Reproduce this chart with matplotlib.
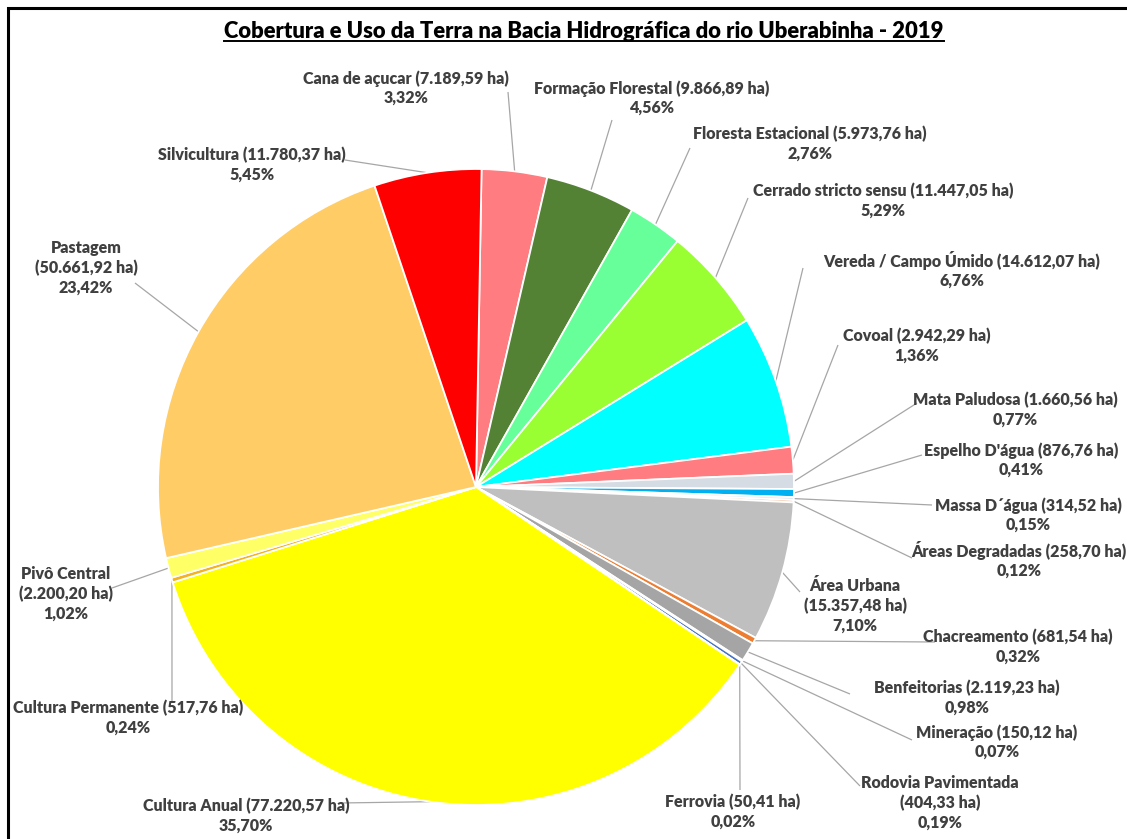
import matplotlib
matplotlib.use("Agg")
import matplotlib.pyplot as plt
import numpy as np

# ---------------- data ----------------
categories = [
    "Cana de açucar", "Formação Florestal", "Floresta Estacional",
    "Cerrado stricto sensu", "Vereda / Campo Úmido", "Covoal",
    "Mata Paludosa", "Espelho D'água", "Massa D´água", "Áreas Degradadas",
    "Área Urbana", "Chacreamento", "Benfeitorias", "Mineração",
    "Rodovia Pavimentada", "Ferrovia", "Cultura Anual",
    "Cultura Permanente", "Pivô Central", "Pastagem", "Silvicultura",
]
hectares = [
    7189.59, 9866.89, 5973.76, 11447.05, 14612.07, 2942.29,
    1660.56, 876.76, 314.52, 258.70, 15357.48, 681.54, 2119.23, 150.12,
    404.33, 50.41, 77220.57, 517.76, 2200.20, 50661.92, 11780.37,
]
percents = [
    3.32, 4.56, 2.76, 5.29, 6.76, 1.36, 0.77, 0.41, 0.15, 0.12, 7.10,
    0.32, 0.98, 0.07, 0.19, 0.02, 35.70, 0.24, 1.02, 23.42, 5.45,
]
title = "Cobertura e Uso da Terra na Bacia Hidrográfica do rio Uberabinha - 2019"

colors = [
    "#FF7C80", "#548235", "#66FF99", "#99FF33", "#00FFFF", "#FF7C80",
    "#D6DCE4", "#00B0F0", "#DDEBF7", "#F4B183", "#BFBFBF", "#ED7D31",
    "#A5A5A5", "#D9D9D9", "#4472C4", "#70AD47", "#FFFF00", "#F4B120",
    "#FFFF66", "#FFCC66", "#FF0000",
]

# label layout (pixel coords): text centre, leader anchor
label_pos = [
    (406, 88), (652, 98), (810, 144), (883, 201), (962, 270), (917, 346),
    (1015, 410), (1021, 460), (1028, 515), (1019, 560), (855, 606),
    (1018, 647), (967, 698), (997, 742), (940, 803), (733, 812),
    (246, 816), (128, 718), (66, 594), (86, 268), (252, 165),
]
anchor_pos = [
    (508, 92), (612, 120), (690, 148), (748, 198), (803, 268), (838, 345),
    (917, 403), (922, 455), (932, 505), (912, 558), (800, 592),
    (935, 642), (850, 694), (912, 740), (860, 786), (740, 790),
    (340, 803), (172, 702), (112, 588), (135, 283), (345, 160),
]
three_line = {"Área Urbana", "Rodovia Pavimentada", "Pivô Central", "Pastagem"}

W, H = 1127, 839
CX, CY, R = 476, 487, 318

def fmt_br(v):
    s = f"{v:,.2f}"
    return s.replace(",", "#").replace(".", ",").replace("#", ".")

def P(x, y):
    return (x, H - y)

FONT = ["Lato", "DejaVu Sans"]
LABEL_COLOR = "#404040"

fig = plt.figure(figsize=(W / 100, H / 100), dpi=100)
ax = fig.add_axes([0, 0, 1, 1])

wedges, _ = ax.pie(
    hectares, colors=colors, startangle=89, counterclock=False,
    center=P(CX, CY), radius=R, frame=True,
    wedgeprops=dict(edgecolor="white", linewidth=1.3),
)
ax.set_xlim(0, W)
ax.set_ylim(0, H)
ax.set_aspect("equal")
ax.axis("off")

for i, (name, ha_, pct) in enumerate(zip(categories, hectares, percents)):
    w = wedges[i]
    mid = np.deg2rad((w.theta1 + w.theta2) / 2)
    ex = w.center[0] + R * np.cos(mid)
    ey = w.center[1] + R * np.sin(mid)
    ax_, ay_ = P(*anchor_pos[i])
    ax.plot([ax_, ex], [ay_, ey], color="#A6A6A6", lw=0.9, zorder=0.5,
            solid_capstyle="butt")
    area = f"({fmt_br(ha_)} ha)"
    pct_s = f"{pct:.2f}".replace(".", ",") + "%"
    if name in three_line:
        txt = f"{name}\n{area}\n{pct_s}"
    else:
        txt = f"{name} {area}\n{pct_s}"
    ax.text(*P(*label_pos[i]), txt, ha="center", va="center",
            fontsize=11.5, fontweight="heavy", color=LABEL_COLOR,
            family=FONT, linespacing=1.25, multialignment="center")

t = ax.text(*P(584, 31), title, ha="center", va="center", fontsize=15.8,
            fontweight="heavy", color="black", family=FONT)
fig.canvas.draw()
bb = t.get_window_extent(fig.canvas.get_renderer())
ax.plot([bb.x0, bb.x1], [bb.y0 + 1, bb.y0 + 1], color="black", lw=1.4)

# frame (left and top edges visible)
ax.plot([7.5, 7.5, W + 5], [-5, H - 8, H - 8], color="black", lw=2.2,
        solid_joinstyle="miter")

fig.savefig("out.png", dpi=100, facecolor="white")
